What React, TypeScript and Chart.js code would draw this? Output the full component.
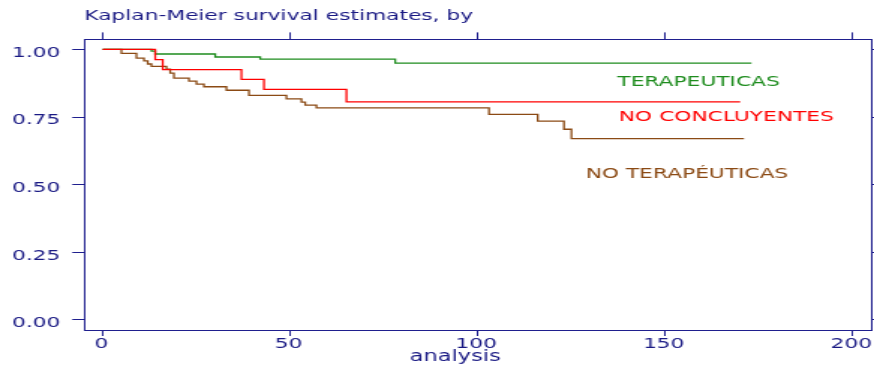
import React, { useEffect, useRef } from "react";
import { Chart, registerables } from "chart.js";

Chart.register(...registerables);

// ---------- data ----------
const titleText = "Kaplan-Meier survival estimates, by";
const xAxisTitle = "analysis";
const xTickValues = [0, 50, 100, 150, 200];
const yTickValues = [0, 0.25, 0.5, 0.75, 1];

const groupNames = ["NO CONCLUYENTES", "TERAPEUTICAS", "NO TERAPÉUTICAS"];

const noConcluyentesTime = [0, 14, 16, 37, 43, 65, 170];
const noConcluyentesSurv = [1, 0.962, 0.925, 0.889, 0.852, 0.806, 0.806];

const terapeuticasTime = [0, 13, 14, 30, 42, 78, 173];
const terapeuticasSurv = [1, 0.994, 0.983, 0.972, 0.964, 0.949, 0.949];

const noTerapeuticasTime = [0, 5, 9, 11, 12, 13, 17, 18, 19, 23, 25, 27, 33, 39, 49, 53, 54, 57, 103, 116, 123, 125, 171];
const noTerapeuticasSurv = [1, 0.985, 0.968, 0.958, 0.946, 0.937, 0.927, 0.912, 0.894, 0.883, 0.872, 0.862, 0.849, 0.83, 0.817, 0.805, 0.794, 0.784, 0.76, 0.735, 0.705, 0.67, 0.67];

// label anchors (in data units)
const labelAnchorTime = [166.3, 158.9, 155.8];
const labelAnchorSurv = [0.753, 0.8826, 0.5415];
const axisTitleAnchorTime = 94;

// ---------- styles ----------
const PAGE_W = 874;
const PAGE_H = 366;
const CW = 583; // internal canvas width, stretched horizontally to PAGE_W
const AXIS = "#1f1f8e";
const TEXT = "#1a1a84";
const FONT = '"DejaVu Sans", "Liberation Sans", sans-serif';
const COLORS = ["#ff0000", "#1e8c1e", "#8b4a14"];

const groupLabelPlugin = {
  id: "groupLabels",
  afterDatasetsDraw(chart: any) {
    const { ctx, scales } = chart;
    const x = scales.x;
    const y = scales.y;
    ctx.save();
    ctx.font = `14.5px ${FONT}`;
    ctx.textAlign = "center";
    ctx.textBaseline = "middle";
    groupNames.forEach((name, i) => {
      ctx.fillStyle = COLORS[i];
      ctx.fillText(name, x.getPixelForValue(labelAnchorTime[i]), y.getPixelForValue(labelAnchorSurv[i]) + 1);
    });
    // x axis title, placed under the axis as in the original
    ctx.fillStyle = TEXT;
    ctx.font = `15px ${FONT}`;
    ctx.fillText(xAxisTitle, x.getPixelForValue(axisTitleAnchorTime), x.bottom - 9);
    ctx.restore();
  },
};

function series(times: number[], surv: number[]) {
  return times.map((t, i) => ({ x: t, y: surv[i] }));
}

export default function App() {
  const ref = useRef<HTMLCanvasElement>(null);

  useEffect(() => {
    const canvas = ref.current;
    if (!canvas) return;
    const xTicks = (s: any) => {
      s.ticks = xTickValues.map((v) => ({ value: v }));
    };
    const yTicks = (s: any) => {
      s.ticks = yTickValues.map((v) => ({ value: v }));
    };
    const tickFont = { family: FONT, size: 14.5, weight: "normal" as const };
    const mk = (i: number, times: number[], surv: number[]) => ({
      label: groupNames[i],
      data: series(times, surv),
      borderColor: COLORS[i],
      borderWidth: 1.3,
      stepped: true,
      pointRadius: 0,
      fill: false,
      xAxisID: "x",
      yAxisID: "y",
    });
    const chart = new Chart(canvas, {
      type: "line",
      data: {
        datasets: [
          mk(0, noConcluyentesTime, noConcluyentesSurv),
          mk(1, terapeuticasTime, terapeuticasSurv),
          mk(2, noTerapeuticasTime, noTerapeuticasSurv),
        ],
      },
      options: {
        animation: false,
        responsive: false,
        devicePixelRatio: 1,
        layout: { padding: 0 },
        plugins: {
          legend: { display: false },
          tooltip: { enabled: false },
          title: {
            display: true,
            text: titleText,
            align: "start",
            fullSize: false,
            color: TEXT,
            font: { family: FONT, size: 14.5, weight: "normal" },
            padding: { top: 8, bottom: 0 },
          },
        },
        scales: {
          x: {
            type: "linear",
            position: "bottom",
            min: -4.92,
            max: 204.88,
            afterBuildTicks: xTicks,
            afterFit: (s: any) => {
              s.height = 36;
            },
            grid: { drawOnChartArea: false, drawTicks: true, tickLength: 6, color: AXIS, lineWidth: 1 },
            border: { display: true, color: AXIS, width: 1 },
            ticks: {
              color: TEXT,
              font: tickFont,
              padding: 0,
              maxRotation: 0,
              autoSkip: false,
              labelOffset: -1,
              callback: (v: any) => String(v),
            },
            title: { display: false, text: xAxisTitle },
          },
          x2: {
            type: "linear",
            position: "top",
            min: -4.92,
            max: 204.88,
            afterBuildTicks: xTicks,
            afterFit: (s: any) => {
              s.height = 14;
            },
            grid: { drawOnChartArea: false, drawTicks: true, tickLength: 7, color: AXIS, lineWidth: 1 },
            border: { display: true, color: AXIS, width: 1 },
            ticks: { display: false },
          },
          y: {
            type: "linear",
            position: "left",
            min: -0.037,
            max: 1.037,
            afterBuildTicks: yTicks,
            afterFit: (s: any) => {
              s.width = 56.2;
            },
            grid: { drawOnChartArea: false, drawTicks: true, tickLength: 8, color: AXIS, lineWidth: 1 },
            border: { display: true, color: AXIS, width: 1 },
            ticks: {
              color: TEXT,
              font: tickFont,
              padding: 8,
              labelOffset: 3.5,
              autoSkip: false,
              callback: (v: any) => Number(v).toFixed(2),
            },
          },
          y2: {
            type: "linear",
            position: "right",
            min: -0.037,
            max: 1.037,
            afterBuildTicks: yTicks,
            afterFit: (s: any) => {
              s.width = 2;
            },
            grid: { drawOnChartArea: false, drawTicks: true, tickLength: 2, color: AXIS, lineWidth: 1 },
            border: { display: true, color: AXIS, width: 1 },
            ticks: { display: false },
          },
        },
      },
      plugins: [groupLabelPlugin],
    });
    return () => chart.destroy();
  }, []);

  return (
    <div
      style={{
        position: "fixed",
        left: 0,
        top: 0,
        width: PAGE_W,
        height: PAGE_H,
        overflow: "hidden",
        background: "#ffffff",
      }}
    >
      <div
        style={{
          width: CW,
          height: PAGE_H,
          transform: `scaleX(${PAGE_W / CW})`,
          transformOrigin: "0 0",
        }}
      >
        <canvas ref={ref} width={CW} height={PAGE_H} style={{ display: "block", width: CW, height: PAGE_H }} />
      </div>
    </div>
  );
}
